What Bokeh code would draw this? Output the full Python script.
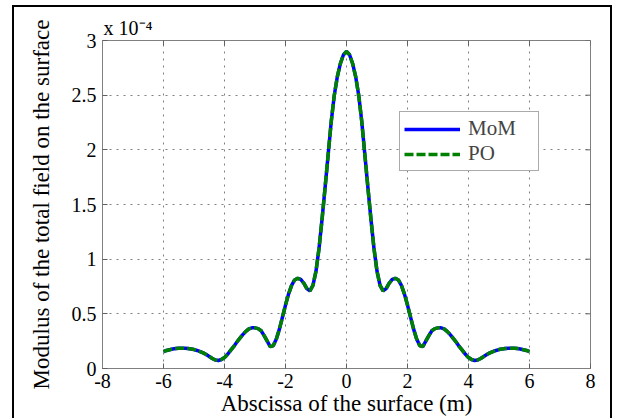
from bokeh.plotting import figure
from bokeh.models import Legend, LegendItem, Title, FixedTicker, Range1d
from bokeh.embed import file_html
from bokeh.resources import INLINE
import math

# ---------------- data (field modulus in units of 1e-4) ----------------
x_pos = [-6.0, -5.9, -5.8, -5.7, -5.6, -5.5, -5.4, -5.3, -5.2, -5.1,
         -5.0, -4.9, -4.8, -4.7, -4.6, -4.5, -4.4, -4.3, -4.2, -4.1,
         -4.0, -3.9, -3.8, -3.7, -3.6, -3.5, -3.4, -3.3, -3.2, -3.1,
         -3.0, -2.9, -2.8, -2.7, -2.6, -2.5, -2.4, -2.3, -2.2, -2.1,
         -2.0, -1.9, -1.8, -1.7, -1.6, -1.5, -1.4, -1.3, -1.2, -1.1,
         -1.0, -0.9, -0.8, -0.7, -0.6, -0.5, -0.4, -0.3, -0.2, -0.1,
         0.0,
         0.1, 0.2, 0.3, 0.4, 0.5, 0.6, 0.7, 0.8, 0.9, 1.0,
         1.1, 1.2, 1.3, 1.4, 1.5, 1.6, 1.7, 1.8, 1.9, 2.0,
         2.1, 2.2, 2.3, 2.4, 2.5, 2.6, 2.7, 2.8, 2.9, 3.0,
         3.1, 3.2, 3.3, 3.4, 3.5, 3.6, 3.7, 3.8, 3.9, 4.0,
         4.1, 4.2, 4.3, 4.4, 4.5, 4.6, 4.7, 4.8, 4.9, 5.0,
         5.1, 5.2, 5.3, 5.4, 5.5, 5.6, 5.7, 5.8, 5.9, 6.0]

mom_y = [0.155, 0.165, 0.172, 0.178, 0.182, 0.185, 0.186, 0.185, 0.182, 0.178,
         0.173, 0.165, 0.155, 0.143, 0.128, 0.110, 0.092, 0.077, 0.073, 0.082,
         0.100, 0.130, 0.165, 0.200, 0.240, 0.275, 0.310, 0.340, 0.363, 0.372,
         0.372, 0.365, 0.345, 0.300, 0.250, 0.200, 0.210, 0.270, 0.360, 0.470,
         0.580, 0.680, 0.760, 0.810, 0.825, 0.815, 0.780, 0.730, 0.710, 0.760,
         0.890, 1.100, 1.370, 1.660, 1.960, 2.260, 2.500, 2.670, 2.790, 2.870,
         2.900,
         2.870, 2.790, 2.670, 2.500, 2.260, 1.960, 1.660, 1.370, 1.100, 0.890,
         0.760, 0.710, 0.730, 0.780, 0.815, 0.825, 0.810, 0.760, 0.680, 0.580,
         0.470, 0.360, 0.270, 0.210, 0.200, 0.250, 0.300, 0.345, 0.365, 0.372,
         0.372, 0.363, 0.340, 0.310, 0.275, 0.240, 0.200, 0.165, 0.130, 0.100,
         0.082, 0.073, 0.077, 0.092, 0.110, 0.128, 0.143, 0.155, 0.165, 0.173,
         0.178, 0.182, 0.185, 0.186, 0.185, 0.182, 0.178, 0.172, 0.165, 0.155]

po_y = [0.155, 0.165, 0.172, 0.178, 0.182, 0.185, 0.186, 0.185, 0.182, 0.178,
        0.173, 0.165, 0.155, 0.143, 0.128, 0.110, 0.092, 0.077, 0.073, 0.082,
        0.100, 0.130, 0.165, 0.200, 0.240, 0.275, 0.310, 0.340, 0.363, 0.372,
        0.372, 0.365, 0.345, 0.300, 0.250, 0.200, 0.210, 0.270, 0.360, 0.470,
        0.580, 0.680, 0.760, 0.810, 0.825, 0.815, 0.780, 0.730, 0.710, 0.760,
        0.890, 1.100, 1.370, 1.660, 1.960, 2.260, 2.500, 2.670, 2.790, 2.870,
        2.900,
        2.870, 2.790, 2.670, 2.500, 2.260, 1.960, 1.660, 1.370, 1.100, 0.890,
        0.760, 0.710, 0.730, 0.780, 0.815, 0.825, 0.810, 0.760, 0.680, 0.580,
        0.470, 0.360, 0.270, 0.210, 0.200, 0.250, 0.300, 0.345, 0.365, 0.372,
        0.372, 0.363, 0.340, 0.310, 0.275, 0.240, 0.200, 0.165, 0.130, 0.100,
        0.082, 0.073, 0.077, 0.092, 0.110, 0.128, 0.143, 0.155, 0.165, 0.173,
        0.178, 0.182, 0.185, 0.186, 0.185, 0.182, 0.178, 0.172, 0.165, 0.155]

x_ticks = [-8, -6, -4, -2, 0, 2, 4, 6, 8]
y_ticks = [0, 0.5, 1, 1.5, 2, 2.5, 3]
x_tick_labels = ["-8", "-6", "-4", "-2", "0", "2", "4", "6", "8"]
y_tick_labels = ["0", "0.5", "1", "1.5", "2", "2.5", "3"]
x_label = "Abscissa of the surface (m)"
y_label = "Modulus of the total field on the surface"
series_names = ["MoM", "PO"]
scale_text = "x 10\u207b\u2074"   # "x 10^-4" multiplier shown above the y axis

FONT = "Liberation Serif"
AX_GREY = "#808080"

p = figure(width=600, height=413, output_backend="svg", toolbar_location=None,
           x_range=Range1d(x_ticks[0], x_ticks[-1]),
           y_range=Range1d(y_ticks[0], y_ticks[-1]),
           min_border_left=88, min_border_right=24,
           min_border_top=33, min_border_bottom=52)
# outer black figure box (open at the bottom, as in the cropped reference)
p.margin = (5, 0, 0, 12)
p.styles = {"border-left": "2px solid black", "border-top": "2px solid black",
            "border-right": "2px solid black"}
p.background_fill_color = "white"
p.border_fill_color = "white"
p.outline_line_color = AX_GREY
p.outline_line_width = 1

for ax, ticks, labels in ((p.xaxis, x_ticks, x_tick_labels),
                          (p.yaxis, y_ticks, y_tick_labels)):
    ax.ticker = FixedTicker(ticks=ticks)
    ax.major_label_overrides = dict(zip(ticks, labels))
    ax.axis_line_color = AX_GREY
    ax.major_tick_line_color = "#606060"
    ax.major_tick_in = 5
    ax.major_tick_out = 0
    ax.minor_tick_line_color = None
    ax.major_label_text_font = FONT
    ax.major_label_text_font_size = "20px"
    ax.major_label_text_color = "black"
    ax.axis_label_text_font = FONT
    ax.axis_label_text_font_style = "normal"
    ax.axis_label_text_color = "black"

p.xaxis.axis_label = x_label
p.xaxis.axis_label_text_font_size = "23px"
p.xaxis.axis_label_standoff = 0
p.xaxis.major_label_standoff = 5
p.yaxis.axis_label = y_label
p.yaxis.axis_label_text_font_size = "23px"
p.yaxis.axis_label_standoff = 15
p.yaxis.major_label_standoff = 6

for g in (p.xgrid, p.ygrid):
    g.grid_line_color = AX_GREY
    g.grid_line_dash = "2 5"
    g.grid_line_width = 1

# mirrored inner ticks on top / right edges (half of each dash is clipped by the frame)
p.scatter(x=x_ticks, y=[y_ticks[-1]] * len(x_ticks), marker="dash", size=10,
          angle=math.pi / 2, line_color="#606060", line_width=1)
p.scatter(x=[x_ticks[-1]] * len(y_ticks), y=y_ticks, marker="dash", size=10,
          line_color="#606060", line_width=1)

r_mom = p.line(x_pos, mom_y, line_color="#0000ff", line_width=3.5)
r_po = p.line(x_pos, po_y, line_color="#008000", line_width=3.5, line_dash="9 3")

legend = Legend(items=[LegendItem(label=series_names[0], renderers=[r_mom]),
                       LegendItem(label=series_names[1], renderers=[r_po])],
                location=(297, 197), orientation="vertical")
legend.border_line_color = "#555555"
legend.border_line_width = 1
legend.background_fill_color = "white"
legend.background_fill_alpha = 1
legend.label_text_font = FONT
legend.label_text_font_size = "21px"
legend.padding = 4
legend.spacing = 0
legend.margin = 0
legend.label_height = 22
legend.glyph_height = 22
legend.glyph_width = 56
legend.label_standoff = 8
legend.label_width = 66
p.add_layout(legend)

p.add_layout(Title(text=scale_text, align="left", offset=1, standoff=3,
                   text_font=FONT, text_font_size="20px", text_font_style="normal",
                   text_color="black"), "above")

open("out.html", "w").write(file_html(p, INLINE))
